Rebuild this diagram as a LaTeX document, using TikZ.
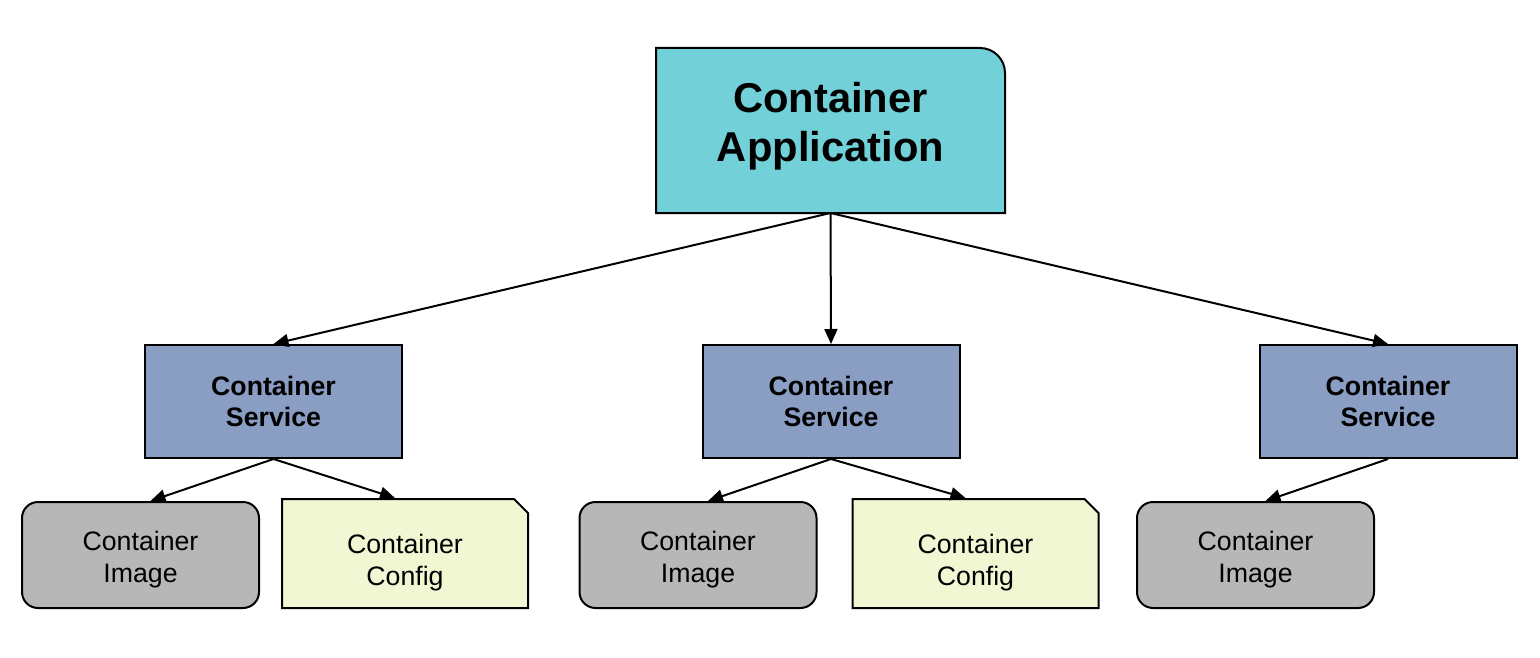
\documentclass[tikz,border=0pt]{standalone}
\usepackage{fontspec}
\setmainfont{Liberation Sans}
\usetikzlibrary{shapes.misc,arrows.meta,backgrounds}

\definecolor{appfill}{HTML}{72D1D8}
\definecolor{svcfill}{HTML}{8A9DC3}
\definecolor{imgfill}{HTML}{B7B7B7}
\definecolor{cfgfill}{HTML}{F1F7D3}

\begin{document}
\begin{tikzpicture}[x=1pt, y=-1pt, line width=2pt,
        appbox/.style={minimum width=347pt, minimum height=163pt, inner sep=0pt, align=center,
            text height=63pt, text depth=0pt, font=\bfseries\fontsize{41.7}{49}\selectfont},
        svcbox/.style={draw, fill=svcfill, minimum width=257pt, minimum height=113pt, inner sep=0pt,
            align=center, font=\bfseries\fontsize{26.7}{31}\selectfont},
        imgbox/.style={draw, fill=imgfill, rounded corners=16pt, minimum width=237pt, minimum height=106pt,
            inner sep=0pt, align=center, text height=55pt, text depth=0pt,
            font=\fontsize{26.7}{32}\selectfont},
        cfgbox/.style={draw, fill=cfgfill, chamfered rectangle, chamfered rectangle corners=north east,
            chamfered rectangle xsep=7pt, chamfered rectangle ysep=7pt,
            minimum width=246pt, minimum height=109pt, inner sep=0pt, align=center,
            text height=64pt, text depth=0pt, font=\fontsize{26.7}{32}\selectfont},
        link/.style={-{Triangle[length=15pt,width=13pt]}}]
        \useasboundingbox (0,0) rectangle (1540,658);

        \node[appbox] (app) at (830.5,130.5) {Container\\Application};

        \node[svcbox] (svcA) at (273.5,401.5) {Container\\Service};
        \node[svcbox] (svcB) at (831,401.5) {Container\\Service};
        \node[svcbox] (svcC) at (1388,401.5) {Container\\Service};

        \node[imgbox] (imgA) at (140.5,555) {Container\\Image};
        \node[cfgbox] (cfgA) at (405,553.5) {Container\\Config};
        \node[imgbox] (imgB) at (698,555) {Container\\Image};
        \node[cfgbox] (cfgB) at (975.5,553.5) {Container\\Config};
        \node[imgbox] (imgC) at (1255.5,555) {Container\\Image};

        \begin{scope}[on background layer]
        \draw[fill=appfill, line width=2pt] (app.south west) -- (app.north west) -- ([xshift=-25pt]app.north east)
            arc[start angle=90, end angle=0, radius=25pt] -- (app.south east) -- cycle;
        \end{scope}

        \draw[link] (app.south) -- (svcA.north);
        \draw[link] (app.south) -- (svcB.north);
        \draw[link] (app.south) -- (svcC.north);

        \draw[link] (svcA.south) -- ([xshift=10pt]imgA.north);
        \draw[link] (svcA.south) -- ([xshift=-10pt]cfgA.north);
        \draw[link] (svcB.south) -- ([xshift=10pt]imgB.north);
        \draw[link] (svcB.south) -- ([xshift=-10pt]cfgB.north);
        \draw[link] (svcC.south) -- ([xshift=10pt]imgC.north);
\end{tikzpicture}
\end{document}
